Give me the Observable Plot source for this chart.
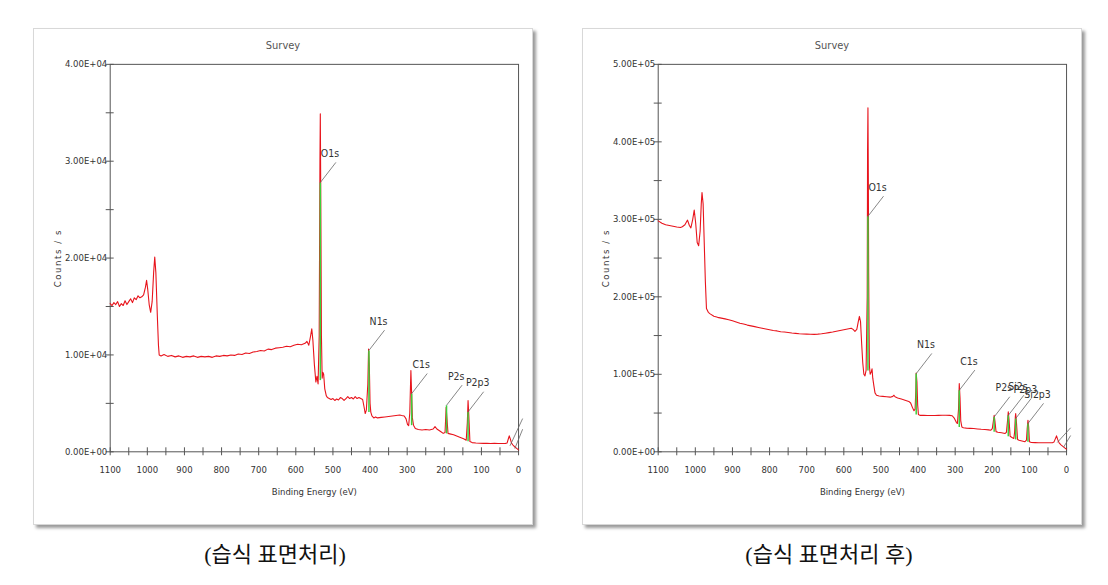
<!DOCTYPE html>
<html>
<head>
<meta charset="utf-8">
<script src="https://cdn.jsdelivr.net/npm/d3@7"></script>
<script src="https://cdn.jsdelivr.net/npm/@observablehq/plot@0.6"></script>
<style>
  html, body { margin: 0; padding: 0; background: #fff; }
  #wrap { position: relative; width: 1108px; height: 585px; overflow: hidden; background: #fff; }
  .panel { position: absolute; top: 28px; width: 500px; height: 497px; background: #fff;
           border: 1px solid #d8d8d8; box-shadow: 3px 3px 3px #9a9a9a; box-sizing: border-box; }
  .panel svg { position: absolute; left: 0; top: 0; }
  .title { position: absolute; top: 10px; width: 100%; text-align: center;
           font-family: "Liberation Sans Narrow", "DejaVu Sans Condensed", "Liberation Sans", sans-serif;
           font-size: 11px; color: #555; }
  .caption { position: absolute; top: 536px; font-family: "Liberation Serif", "Noto Sans CJK KR", serif;
             font-size: 22px; color: #111; transform: translateX(-50%); white-space: nowrap; }
</style>
</head>
<body>
<div id="wrap">
  <div class="panel" id="p1" style="left:33px"><div class="title">Survey</div></div>
  <div class="panel" id="p2" style="left:582px"><div class="title">Survey</div></div>
  <div class="caption" id="c1" style="left:275px"></div>
  <div class="caption" id="c2" style="left:829px"></div>
</div>
<script>
// ---------- Data ----------
const captions = ["(습식 표면처리)", "(습식 표면처리 후)"];
const xMajorTicks = [1100, 1000, 900, 800, 700, 600, 500, 400, 300, 200, 100, 0];
const xMinorTicks = [1050, 950, 850, 750, 650, 550, 450, 350, 250, 150, 50];
const leftYTicks = [0, 10000, 20000, 30000, 40000];
const leftYMinor = [5000, 15000, 25000, 35000];
const rightYTicks = [0, 100000, 200000, 300000, 400000, 500000];
const rightYMinor = [50000, 150000, 250000, 350000, 450000];

// Left spectrum (wet surface treatment)
const leftE = [1100,1095,1090,1085,1080,1075,1070,1065,1060,1055,1050,1045,1040,1035,1030,1025,1020,1015,1010,1005,1002,999,995,991,987,983,980,977,973,970,968,963,955,945,935,925,915,905,895,885,875,865,855,845,835,825,815,805,795,785,775,765,755,745,735,725,715,705,695,685,675,665,655,645,635,625,615,605,595,585,575,570,565,560,557,554,550,546,543,540,537,535,534,533,532,531,529,527,525,522,518,515,510,505,500,495,490,485,480,475,470,465,460,455,450,445,440,435,430,425,420,416,413,410,406,404,402,400,398,395,390,385,380,370,360,350,340,330,320,315,308,303,299,296,293,290,288,286,283,278,270,260,250,240,230,225,220,210,203,198,195,193,190,185,175,165,155,148,141,138,136,134,131,125,115,105,95,85,75,65,55,45,35,31,27,25,22,19,15,10,5,2,0];
const leftCounts = [15300,15100,15400,15200,15500,15000,15300,15100,15600,15200,15500,15800,15400,15900,15700,16100,15900,16000,16200,17000,17700,16800,15200,14400,15500,18500,20100,18500,14000,11000,10000,9900,10050,9850,9950,9800,9900,9750,9850,9800,9900,9750,9850,9800,9850,9750,9900,9850,9950,9900,10000,9950,10100,10050,10200,10150,10300,10350,10450,10400,10600,10550,10700,10750,10800,10900,10850,11000,11100,11050,11200,11400,11000,12000,12700,11500,9000,7200,7800,7000,12000,30000,34900,28000,20000,12000,7600,8200,8000,6500,5800,5600,5500,5400,5500,5300,5450,5350,5600,5500,5300,5500,5700,5500,5600,5450,5700,5500,5600,5500,5400,4600,3950,4300,7000,10600,9000,5000,4100,3700,3500,3600,3500,3550,3600,3650,3700,3750,3800,3750,3700,3400,2800,2700,4000,8400,6000,3500,2750,2400,2300,2250,2300,2250,2350,2600,2350,2100,1900,2000,4600,3500,1900,1850,1750,1600,1450,1350,1200,3000,5300,3800,1050,950,900,880,870,880,860,870,850,860,870,900,1400,1650,1300,900,700,500,350,250,200];

// Right spectrum (after wet surface treatment)
const rightE = [1100,1090,1080,1070,1060,1050,1040,1035,1028,1021,1016,1012,1007,1003,999,995,991,987,984,982,979,976,973,970,965,960,950,940,930,920,910,900,890,880,870,860,850,840,830,820,810,800,790,780,770,760,750,740,730,720,710,700,690,680,670,660,650,640,630,620,610,600,590,580,575,570,565,561,558,555,552,549,546,543,540,537,536,535,534,533,532,531,529,526,524,522,519,516,512,505,495,485,475,468,465,462,455,445,435,425,420,415,411,408,406,405,403,401,399,395,385,375,365,355,345,335,325,315,308,302,297,294,291,289,287,285,282,278,270,260,250,240,230,220,210,204,200,197,195,193,190,185,175,166,162,159,157,155,152,147,142,140,138,137,135,132,128,120,112,108,106,104,102,100,95,85,75,65,55,45,38,34,30,27,24,20,15,10,5,2,0];
const rightCounts = [298000,295000,293000,292000,291000,290000,289500,290500,293000,299000,292000,289000,300000,312000,295000,270000,266000,285000,320000,334700,320000,270000,220000,185000,180000,178000,175000,173500,172500,171500,170500,169000,167500,166000,165000,163500,162500,161500,160500,159500,158500,157500,156500,156000,155000,154500,154000,153300,152800,152300,152000,151800,151600,151500,151800,152300,153000,153800,154500,155500,156500,157500,158500,159500,158000,155500,158000,168000,174700,168000,140000,115000,100000,98000,105000,200000,390000,444000,360000,230000,160000,110000,100000,103000,107000,95000,85000,76000,73000,72000,71500,71000,70500,71500,73000,71000,69500,68000,66500,65000,63000,57000,53000,55000,80000,101700,90000,60000,48000,47000,47000,46800,46800,46900,47000,47100,47100,47000,46500,43000,38000,36500,55000,88000,70000,40000,32000,31000,30500,30200,30000,29500,29000,28700,28300,27900,30000,40000,47200,40000,26000,25300,24500,23600,25000,40000,51500,42000,20000,18500,17200,25000,45000,49400,38000,16000,15000,14000,13000,15000,30000,40800,32000,13000,12000,11800,11700,11600,11600,11600,11700,12500,17000,20600,16000,11500,9000,7000,5000,4000,3500];

// Peak labels: name, energy, where the leader meets the peak, local background
const leftPeakNames = ["O1s", "N1s", "C1s", "P2s", "P2p3"];
const leftPeakE = [534, 403, 288, 194, 136];
const leftPeakAnchor = [27800, 10470, 6000, 4800, 4120];
const leftPeakBase = [7400, 4100, 2750, 1900, 1100];
const rightPeakNames = ["O1s", "N1s", "C1s", "P2s", "Si2s", "P2p3", "Si2p3"];
const rightPeakE = [535, 405, 289, 195, 157, 137, 104];
const rightPeakAnchor = [303900, 100900, 79400, 45000, 47000, 43000, 36500];
const rightPeakBase = [105000, 48000, 32000, 26000, 20000, 16000, 13000];
// Unlabelled leaders near 0 eV (start energy/count, end energy/count)
const leftEdgeLeaders = [[23, 620, -11, 3430], [10, 340, -11, 2330]];
const rightEdgeLeaders = [[25, 12000, -11, 31000], [8, 6000, -11, 21000]];

// ---------- Drawing ----------
const RED = "#e8141c", GREEN = "#3ccf3c", AXIS = "#555";
const FONT = '"Liberation Sans Narrow", "DejaVu Sans Condensed", "Liberation Sans", sans-serif';

function sci(v) {
  const [m, e] = v.toExponential(2).split("e");
  const sign = e[0] === "-" ? "-" : "+";
  return m + "E" + sign + e.replace(/[+-]/, "").padStart(2, "0");
}

function makePanel(E, C, yMax, yTicks, yMinor, names, pe, pa, pb, edges, mLeft, mRight) {
  const spec = E.map((e, i) => ({E: e, v: C[i]}));
  const peaks = names.map((n, i) => ({name: n, E: pe[i], anchor: pa[i], base: pb[i]}));
  const lead = d => ({x: d.E - 42, y: d.anchor + 0.052 * yMax});
  const edgeRows = edges.map(([a, b, c, d]) => ({x1: a, y1: b, x2: c, y2: d}));
  const svg = Plot.plot({
    width: 500, height: 497,
    marginLeft: mLeft, marginRight: mRight, marginTop: 35, marginBottom: 73,
    style: {fontFamily: FONT, fontSize: "9.5px", color: "#333", background: "transparent", overflow: "visible"},
    x: {domain: [1100, 0]},
    y: {domain: [0, yMax]},
    marks: [
      Plot.frame({stroke: AXIS}),
      Plot.ruleX(xMinorTicks.concat(xMajorTicks), {x: d => d, y1: 0, y2: 0, insetTop: -4, insetBottom: -4, stroke: AXIS}),
      Plot.ruleY(yMinor.concat(yTicks), {y: d => d, x1: 1100, x2: 1100, insetLeft: -4, insetRight: -4, stroke: AXIS}),
      Plot.axisX({ticks: xMajorTicks, tickSize: 0, tickPadding: 15, tickFormat: d => String(d),
                  label: "Binding Energy (eV)", labelAnchor: "center", labelArrow: "none", labelOffset: 43}),
      Plot.axisY({ticks: yTicks, tickSize: 0, tickPadding: 3, tickFormat: sci,
                  label: "Counts / s", labelAnchor: "center", labelArrow: "none", labelOffset: 56}),
      Plot.line(spec, {x: "E", y: "v", stroke: RED, strokeWidth: 1.1}),
      Plot.link(peaks, {x1: "E", x2: "E", y1: "base", y2: "anchor", stroke: GREEN, strokeWidth: 1.5}),
      Plot.link(peaks, {x1: "E", y1: "anchor", x2: d => lead(d).x, y2: d => lead(d).y, stroke: "#666", strokeWidth: 0.8}),
      Plot.link(edgeRows, {x1: "x1", y1: "y1", x2: "x2", y2: "y2", stroke: "#666", strokeWidth: 0.8}),
      Plot.text(peaks, {x: d => lead(d).x, y: d => lead(d).y, text: "name", dx: -6, dy: -9, fontSize: 10.5, fill: "#333"})
    ]
  });
  d3.select(svg).selectAll("[aria-label='y-axis label'] text").attr("letter-spacing", "1.6px");
  return svg;
}

document.getElementById("p1").appendChild(
  makePanel(leftE, leftCounts, 40000, leftYTicks, leftYMinor, leftPeakNames, leftPeakE, leftPeakAnchor, leftPeakBase, leftEdgeLeaders, 76, 14));
document.getElementById("p2").appendChild(
  makePanel(rightE, rightCounts, 500000, rightYTicks, rightYMinor, rightPeakNames, rightPeakE, rightPeakAnchor, rightPeakBase, rightEdgeLeaders, 75, 15));
document.getElementById("c1").textContent = captions[0];
document.getElementById("c2").textContent = captions[1];
</script>
</body>
</html>
